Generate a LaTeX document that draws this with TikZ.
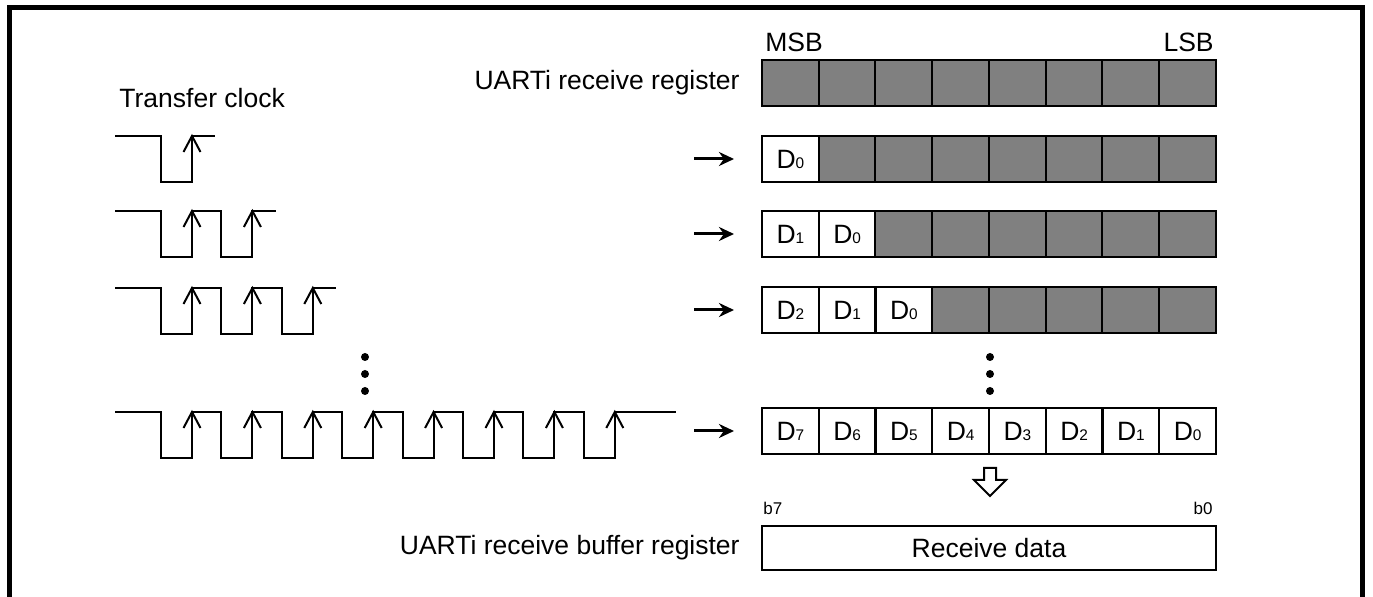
\documentclass[tikz,border=0pt]{standalone}
\usepackage{fontspec}
\setmainfont{Liberation Sans}
\usetikzlibrary{arrows.meta}
\newcommand{\dbit}[1]{D{\fontsize{7.7}{9}\selectfont #1}}

\begin{document}
\begin{tikzpicture}[x=0.5pt, y=-0.5pt,
  every node/.style={font=\fontsize{13.25}{15}\selectfont, inner sep=0pt},
  cell/.style={draw, line width=1pt, minimum width=28.4pt, minimum height=23pt},
  empty/.style={cell, fill=black!50},
  wave/.style={line width=1pt},
  feed/.style={line width=1.5pt, -{Stealth[length=7.5pt, width=7pt]}, shorten >=13.5pt}]
  \useasboundingbox (0,0) rectangle (1373,597);
  \draw[line width=2.5pt] (9,7.5) rectangle (1362.5,640);

  \node[anchor=base west] (clk) at (119,108) {Transfer clock};
  \node[anchor=east] (rreg) at (740,83) {UARTi receive register};
  \node[anchor=base west] (msb) at (765,52) {MSB};
  \node[anchor=base east] (lsb) at (1214,52) {LSB};

  % receive register, one row per clock
  \foreach \k in {1,...,8}
    \node[empty] (r1\k) at ({762+56.75*(\k-0.5)},83) {};
  \foreach \y/\n [count=\r from 2] in {159/1, 234/2, 310/3, 431/8}
    \foreach \k in {1,...,8} {
      \pgfmathtruncatemacro\d{\n-\k}
      \ifnum\k>\n
        \node[empty] (r\r\k) at ({762+56.75*(\k-0.5)},\y) {};
      \else
        \node[cell] (r\r\k) at ({762+56.75*(\k-0.5)},\y) {\dbit{\d}};
      \fi
    }
  \foreach \y/\r in {159/2, 234/3, 310/4, 431/5} {
    \coordinate (s\r) at (694,\y);
    \draw[feed] (s\r) -- (r\r1.west);
  }

  % clock waveforms
  \foreach \h/\n/\t in {136/1/23, 211/2/24, 288/3/23, 412/8/61} {
    \draw[wave] (115,\h) foreach \k in {1,...,\n} { -- ({100.6+60.4*\k},\h) -- ++(0,46) -- ++(31,0) -- ++(0,-46) } -- ++(\t,0);
    \foreach \k in {1,...,\n}
      \draw[wave] ({123.1+60.4*\k},\h+16) -- ({131.6+60.4*\k},\h) -- ({140.1+60.4*\k},\h+16);
  }
  \foreach \y in {357,374,391} {
    \fill (365,\y) circle (2pt);
    \fill (990,\y) circle (2pt);
  }

  % buffer
  \draw[line width=1pt, fill=white] (984,468) -- (996,468) -- (996,480) -- (1006,480) -- (990,496) -- (974,480) -- (984,480) -- cycle;
  \node[draw, line width=1pt, minimum width=227pt, minimum height=22pt] (buf) at (989,548) {Receive data};
  \node[anchor=east] (breg) at (740,548) {UARTi receive buffer register};
  \node[anchor=base west, font=\fontsize{8.5}{10}\selectfont] (b7) at (763,515) {b7};
  \node[anchor=base east, font=\fontsize{8.5}{10}\selectfont] (b0) at (1213,515) {b0};
\end{tikzpicture}
\end{document}
